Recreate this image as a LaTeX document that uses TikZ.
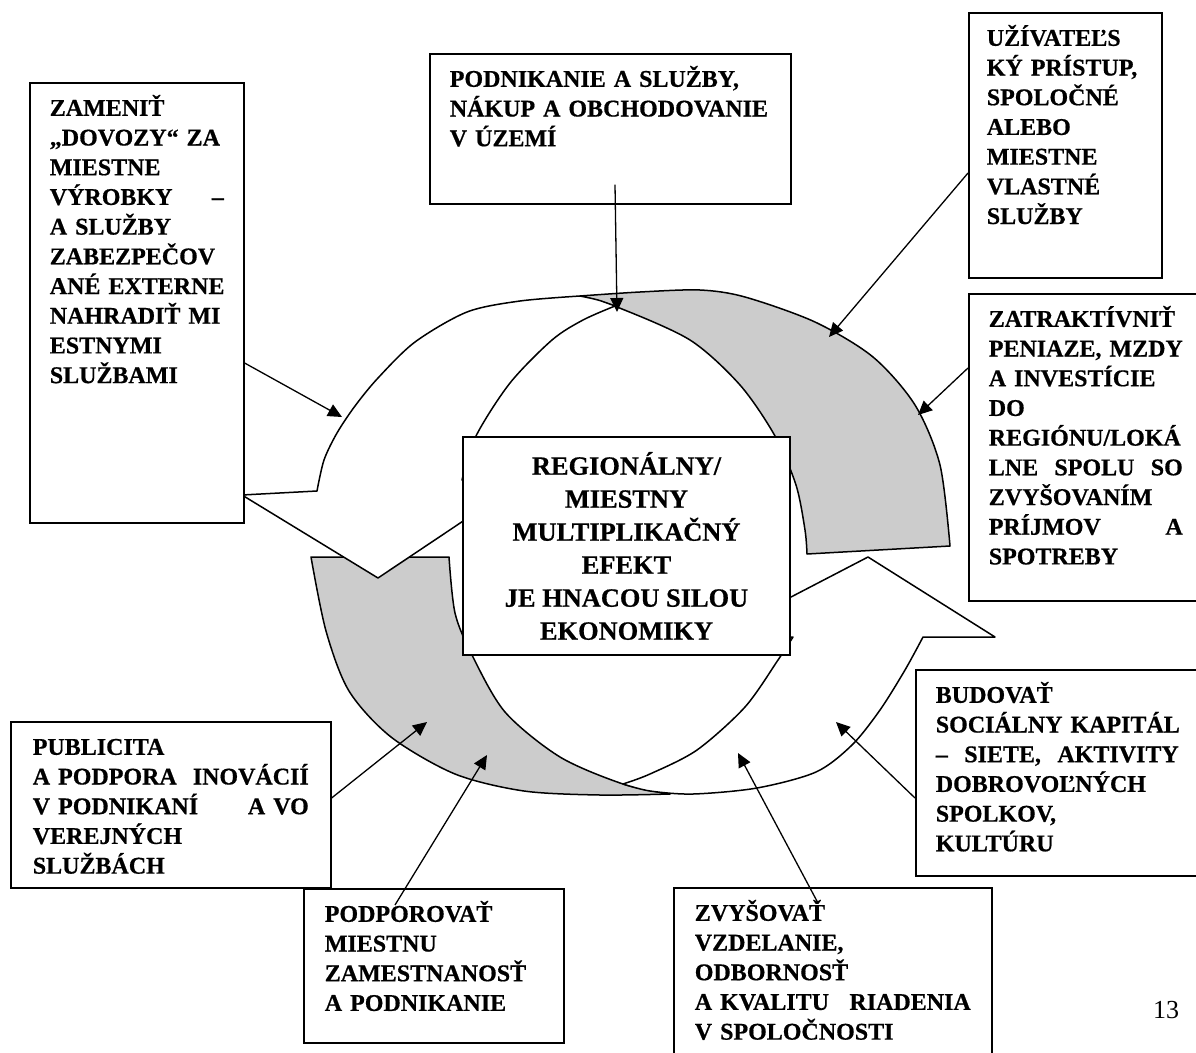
\documentclass[tikz,border=0pt]{standalone}
\usepackage{fontspec}
\setmainfont{Liberation Serif}[BoldFeatures={FakeBold=0.6}]
\usetikzlibrary{arrows.meta,calc}
\newcommand{\boxfont}{\fontsize{24}{29.7}\selectfont\bfseries\uchyph=0 }
\newcommand{\corefont}{\fontsize{26.4}{33}\selectfont\bfseries}
\newcommand{\wordgap}{~\hspace{0pt plus 1filll}}
\begin{document}
\begin{tikzpicture}
[x=1pt,y=-1pt,
information box/.style={draw,line width=1.6pt,fill=white,anchor=north west,
  align=left,inner xsep=20pt,inner ysep=15pt,text height=18pt,font=\boxfont},
ring front/.style={draw,line width=1.5pt,line join=round,fill=white},
ring back/.style={ring front,fill=black!20},
pointer/.style={line width=1.3pt,-{Triangle[length=14pt,width=13pt]}}]
\useasboundingbox (0,0) rectangle (1196,1052);
\draw[ring back] plot[smooth] coordinates {(580,296) (640,292) (700,290) (745,297)
    (815,322) (873,357) (915,405) (940,465) (950,546)}
  -- (807,554)
  -- plot[smooth] coordinates {(807,554) (805,530) (796,485) (775,436) (740,385)
    (690,340) (617,307) (580,296)} -- cycle;
\draw[ring back] (311,557) -- (449,557)
  -- plot[smooth] coordinates {(449,557) (455,613) (472,655) (505,712) (560,757)
    (623,784) (670,794)}
  -- plot[smooth] coordinates {(670,794) (600,795) (524,791) (455,774) (391,737)
    (349,691) (326,631) (311,557)} -- cycle;
\draw[ring front] (242,495) -- (317,491)
  -- plot[smooth] coordinates {(317,491) (324,460) (337,433) (355,406) (378,378)
    (415,342) (467,312) (520,301) (580,296)}
  -- plot[smooth] coordinates {(580,296) (598,300) (615,306)}
  -- plot[smooth] coordinates {(615,306) (583,320) (552,340) (510,383) (476,436)
    (462,480)}
  -- (514,487) -- (378,578) -- cycle;
\draw[ring front] (714,637) -- (793,637)
  -- plot[smooth] coordinates {(793,637) (778,660) (745,707) (697,750) (650,774)
    (623,784)}
  -- plot[smooth] coordinates {(623,784) (650,791) (693,794) (757,788) (816,772)
    (852,745) (880,710) (905,670) (923,637)}
  -- (995,637) -- (868,557) -- cycle;

\node[information box,text width=174pt,text depth=392pt] (zamenit) at (29,82)
  {ZAMENIŤ\\„DOVOZY“~ZA\\MIESTNE\\VÝROBKY\wordgap –\\A~SLUŽBY\\ZABEZPEČOV\\
   ANÉ~EXTERNE\\NAHRADIŤ~MI\\ESTNYMI\\SLUŽBAMI};
\node[information box,text width=321pt,text depth=102pt] (podnikanie) at (429,53)
  {PODNIKANIE A SLUŽBY,\\NÁKUP A OBCHODOVANIE\\V ÚZEMÍ};
\node[information box,inner xsep=18pt,text width=157pt,text depth=217pt] (uzivatel) at (968,12)
  {UŽÍVATEĽS\\KÝ~PRÍSTUP,\\SPOLOČNÉ\\ALEBO\\MIESTNE\\VLASTNÉ\\SLUŽBY};
\node[information box,text width=194pt,text depth=259pt] (zatraktivnit) at (968,293)
  {ZATRAKTÍVNIŤ\\PENIAZE,~MZDY\\A~INVESTÍCIE\\DO\\REGIÓNU/LOKÁ\\
   LNE\wordgap SPOLU\wordgap SO\\ZVYŠOVANÍM\\PRÍJMOV\wordgap A\\SPOTREBY};
\node[draw,line width=1.6pt,fill=white,align=center,font=\corefont,
  minimum width=327pt,minimum height=218pt] (efekt) at (626.5,546)
  {REGIONÁLNY/\\MIESTNY\\MULTIPLIKAČNÝ\\EFEKT\\JE HNACOU SILOU\\EKONOMIKY};
\node[information box,inner xsep=22pt,text width=276pt,text depth=118pt] (publicita) at (10,721)
  {PUBLICITA\\A~PODPORA\wordgap INOVÁCIÍ\\V~PODNIKANÍ\wordgap A~VO\\
   VEREJNÝCH\\SLUŽBÁCH};
\node[information box,text width=243pt,text depth=158pt] (budovat) at (915,669)
  {BUDOVAŤ\\SOCIÁLNY\wordgap KAPITÁL\\–\wordgap SIETE,\wordgap AKTIVITY\\
   DOBROVOĽNÝCH\\SPOLKOV,\\KULTÚRU};
\node[information box,inner xsep=21pt,text width=218pt,text depth=106pt] (podporovat) at (303,888)
  {PODPOROVAŤ\\MIESTNU\\ZAMESTNANOSŤ\\A~PODNIKANIE};
\node[information box,inner xsep=21pt,text width=276pt,text depth=132pt] (zvysovat) at (673,887)
  {ZVYŠOVAŤ\\VZDELANIE,\\ODBORNOSŤ\\A~KVALITU\wordgap RIADENIA\\V~SPOLOČNOSTI};
\node[font=\fontsize{26}{30}\selectfont] (strana) at (1166,1010) {13};

\coordinate (tipZamenit) at (342,417);
\coordinate (tipPodnikanie) at (617,312);
\coordinate (tipUzivatel) at (829,337);
\coordinate (tipZatraktivnit) at (918,415);
\coordinate (tipPublicita) at (427,722);
\coordinate (tipPodporovat) at (487,755);
\coordinate (tipZvysovat) at (738,753);
\coordinate (tipBudovat) at (836,722);
\draw[pointer] (zamenit.east |- 0,363) -- (tipZamenit);
\draw[pointer] ($(podnikanie.south -| tipPodnikanie)+(-2,-20)$) -- (tipPodnikanie);
\draw[pointer] (uzivatel.west |- 0,173) -- (tipUzivatel);
\draw[pointer] (zatraktivnit.west |- 0,368) -- (tipZatraktivnit);
\draw[pointer] (publicita.east |- 0,798) -- (tipPublicita);
\draw[pointer] ($(podporovat.north west)+(92,17)$) -- (tipPodporovat);
\draw[pointer] ($(zvysovat.north west)+(145,16)$) -- (tipZvysovat);
\draw[pointer] (budovat.west |- 0,798) -- (tipBudovat);
\end{tikzpicture}
\end{document}
